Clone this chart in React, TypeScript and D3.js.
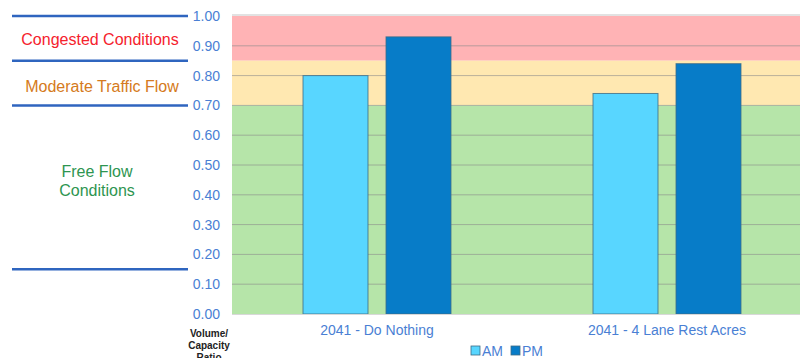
import React from "react";
import * as d3 from "d3";

const categories = ["2041 - Do Nothing", "2041 - 4 Lane Rest Acres"];
const seriesNames = ["AM", "PM"];
const amValues = [0.80, 0.74];
const pmValues = [0.93, 0.84];
const yTicks = [0, 0.1, 0.2, 0.3, 0.4, 0.5, 0.6, 0.7, 0.8, 0.9, 1.0];
const bands = [
  { from: 0.85, to: 1.0, color: "#ffb3b5" },
  { from: 0.7, to: 0.85, color: "#ffe8b1" },
  { from: 0, to: 0.7, color: "#b6e5a9" },
];
const zoneDividers = [1.0, 0.85, 0.7, 0.15];
const seriesColors = ["#58d6ff", "#077cc8"];

export default function App() {
  const W = 800, H = 358;
  const left = 232, right = 812, top = 16, bottom = 314;
  const x = d3.scaleBand<string>().domain(categories).range([left, right]).padding(0);
  const y = d3.scaleLinear().domain([0, 1]).range([bottom, top]);
  const barW = 65, gap = 18;
  const series = [amValues, pmValues];
  return (
    <svg width={W} height={H} style={{ position: "absolute", left: 0, top: 0, fontFamily: "Arial, 'Liberation Sans', sans-serif" }}>
      <defs>
        <clipPath id="plotclip"><rect x={left} y={0} width={W - left} height={H} /></clipPath>
      </defs>
      <g clipPath="url(#plotclip)">
        {bands.map((b, i) => (
          <rect key={i} x={left} y={y(b.to)} width={right - left} height={y(b.from) - y(b.to)} fill={b.color} />
        ))}
        <line x1={left} x2={right} y1={top - 1} y2={top - 1} stroke="#d8d8d8" strokeWidth={1.5} />
        {yTicks.slice(1, -1).map((t) => (
          <line key={t} x1={left} x2={right} y1={y(t)} y2={y(t)} stroke="#8a8a8a" strokeOpacity={0.6} strokeWidth={1} />
        ))}
        {categories.map((c, ci) => {
          const cx = (x(c) as number) + x.bandwidth() / 2;
          return series.map((vals, si) => {
            const bx = si === 0 ? cx - gap / 2 - barW : cx + gap / 2;
            return (
              <rect key={c + si} x={bx} y={y(vals[ci])} width={barW} height={y(0) - y(vals[ci])}
                fill={seriesColors[si]} stroke="#3d6b85" strokeWidth={1} strokeOpacity={0.8} />
            );
          });
        })}
        <line x1={left} x2={right} y1={bottom + 0.5} y2={bottom + 0.5} stroke="#d8d8d8" strokeWidth={1} />
      </g>
      {yTicks.map((t) => (
        <text key={t} x={220} y={y(t)} dy="0.35em" textAnchor="end" fontSize={14} fill="#4a7fd4">{t.toFixed(2)}</text>
      ))}
      {zoneDividers.map((v) => (
        <line key={v} x1={12} x2={188} y1={y(v)} y2={y(v)} stroke="#2f65bf" strokeWidth={2.5} />
      ))}
      <text x={100} y={39} dy="0.35em" textAnchor="middle" fontSize={16} fill="#f5222d">Congested Conditions</text>
      <text x={102} y={86} dy="0.35em" textAnchor="middle" fontSize={16} fill="#d57a20">Moderate Traffic Flow</text>
      <text x={97} y={171} dy="0.35em" textAnchor="middle" fontSize={16} fill="#2e9550">Free Flow</text>
      <text x={97} y={190} dy="0.35em" textAnchor="middle" fontSize={16} fill="#2e9550">Conditions</text>
      <text x={209} y={333} dy="0.35em" textAnchor="middle" fontSize={10} fontWeight="bold" fill="#222">Volume/</text>
      <text x={209} y={345} dy="0.35em" textAnchor="middle" fontSize={10} fontWeight="bold" fill="#222">Capacity</text>
      <text x={209} y={357} dy="0.35em" textAnchor="middle" fontSize={10} fontWeight="bold" fill="#222">Ratio</text>
      {categories.map((c) => (
        <text key={c} x={(x(c) as number) + x.bandwidth() / 2} y={330} dy="0.35em" textAnchor="middle" fontSize={14} fill="#4a7fd4">{c}</text>
      ))}
      {seriesNames.map((s, i) => {
        const lx = i === 0 ? 471 : 511;
        return (
          <g key={s}>
            <rect x={lx} y={346} width={9} height={9} fill={seriesColors[i]} stroke="#3d6b85" strokeWidth={0.8} />
            <text x={lx + 11} y={351} dy="0.35em" fontSize={14} fill="#4a7fd4">{s}</text>
          </g>
        );
      })}
    </svg>
  );
}
